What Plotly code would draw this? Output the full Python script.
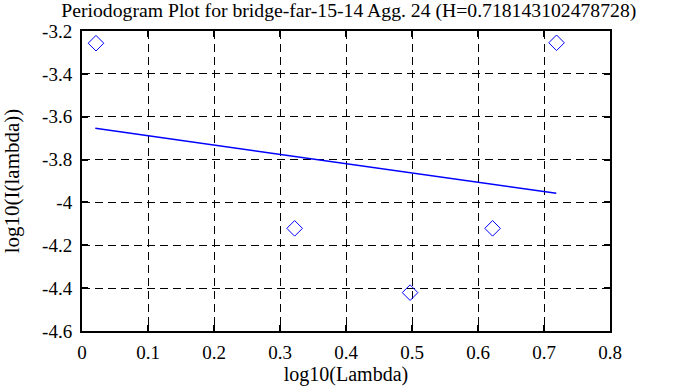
import plotly.graph_objects as go

# data
log_lambda = [0.0212, 0.3222, 0.4971, 0.6221, 0.7190]
log_I = [-3.257, -4.121, -4.421, -4.121, -3.255]
fit_x = [0.0202, 0.7186]
fit_y = [-3.654, -3.957]
x_ticks = [0, 0.1, 0.2, 0.3, 0.4, 0.5, 0.6, 0.7, 0.8]
y_ticks = [-3.2, -3.4, -3.6, -3.8, -4.0, -4.2, -4.4, -4.6]
y_tick_labels = ["-3.2", "-3.4", "-3.6", "-3.8", "-4", "-4.2", "-4.4", "-4.6"]
x_tick_labels = ["0", "0.1", "0.2", "0.3", "0.4", "0.5", "0.6", "0.7", "0.8"]

FONT = "Liberation Serif, Times New Roman, serif"

fig = go.Figure()
fig.add_trace(go.Scatter(
    x=log_lambda, y=log_I, mode="markers",
    marker=dict(symbol="diamond-open", size=12, color="#0000ff", line=dict(width=1, color="#0000ff")),
    showlegend=False,
))
fig.add_trace(go.Scatter(
    x=fit_x, y=fit_y, mode="lines",
    line=dict(color="#0000ff", width=1.5),
    showlegend=False,
))

axis_common = dict(
    showline=True, linecolor="black", linewidth=2, mirror="ticks",
    ticks="inside", ticklen=6, tickcolor="black", tickwidth=2,
    showgrid=True, gridcolor="black", gridwidth=1, griddash="8px,5px",
    zeroline=False, automargin=False,
    tickfont=dict(family=FONT, size=19, color="black"),
)

fig.update_xaxes(
    range=[0, 0.8], tickvals=x_ticks, ticktext=x_tick_labels,
    title=dict(text="log10(Lambda)", font=dict(family=FONT, size=20, color="black"), standoff=3),
    ticklabelstandoff=3,
    **axis_common,
)
fig.update_yaxes(
    range=[-4.6, -3.2], tickvals=y_ticks, ticktext=y_tick_labels,
    title=dict(text="log10(I(lambda))", font=dict(family=FONT, size=21, color="black"), standoff=18),
    ticklabelstandoff=4,
    **axis_common,
)

fig.update_layout(
    width=688, height=387,
    margin=dict(l=82, r=78, t=31, b=56),
    paper_bgcolor="white", plot_bgcolor="white",
    title=dict(text="Periodogram Plot for bridge-far-15-14 Agg. 24 (H=0.718143102478728)",
               font=dict(family=FONT, size=19.7, color="black"),
               x=0.507, xanchor="center", y=0.975, yanchor="middle"),
    font=dict(family=FONT, color="black"),
)

fig.write_html("out.html", config={"displayModeBar": False},
               post_script="document.body.style.margin='0';")
